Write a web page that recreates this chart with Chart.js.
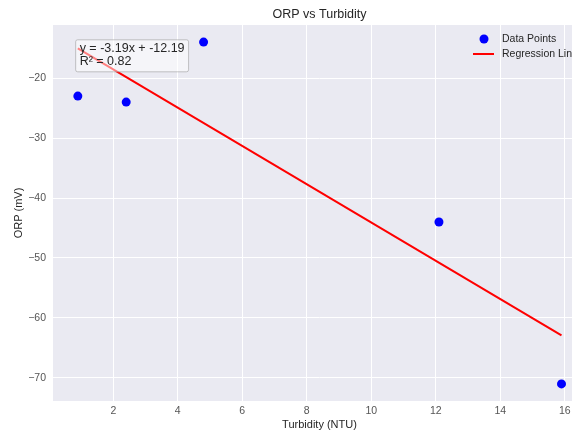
<!DOCTYPE html>
<html>
<head>
<meta charset="utf-8">
<script src="https://cdn.jsdelivr.net/npm/chart.js@4.4.1/dist/chart.umd.min.js"></script>
<style>
  html, body { margin: 0; padding: 0; background: #fff; overflow: hidden; }
  canvas { display: block; }
</style>
</head>
<body>
<canvas id="chart" width="639" height="432"></canvas>
<script>
const turbidity = [0.9, 2.4, 4.8, 12.1, 15.9];
const orp = [-23, -24, -14, -44, -71];
const lineX = [0.9, 15.9];
const lineY = [-15.06, -62.91];
const xTicks = [2, 4, 6, 8, 10, 12, 14, 16];
const yTicks = [-70, -60, -50, -40, -30, -20];
const chartTitle = 'ORP vs Turbidity';
const equationLines = ['y = -3.19x + -12.19', 'R² = 0.82'];
const legendLabels = ['Data Points', 'Regression Line'];

const FONT = "'Liberation Sans', Arial, sans-serif";
const TEXT = '#262626';

const bgPlugin = {
  id: 'bg',
  beforeDraw(chart) {
    const { ctx, chartArea: ca } = chart;
    ctx.save();
    ctx.fillStyle = '#EAEAF2';
    ctx.fillRect(ca.left, ca.top, ca.right - ca.left, ca.bottom - ca.top);
    ctx.restore();
  }
};

// title centred over the axes (the canvas is wider than the window)
const titlePlugin = {
  id: 'axesTitle',
  afterDraw(chart) {
    const { ctx, chartArea: ca } = chart;
    ctx.save();
    ctx.font = '12.5px ' + FONT;
    ctx.fillStyle = TEXT;
    ctx.textAlign = 'center';
    ctx.textBaseline = 'middle';
    ctx.fillText(chartTitle, (ca.left + ca.right) / 2, 15);
    ctx.restore();
  }
};

// equation box in the upper left, like the matplotlib text annotation
const equationPlugin = {
  id: 'equation',
  afterDatasetsDraw(chart) {
    const { ctx, chartArea: ca } = chart;
    const x0 = ca.left + 0.05 * (ca.right - ca.left);
    const y0 = ca.top + 0.05 * (ca.bottom - ca.top);
    ctx.save();
    ctx.font = '12.5px ' + FONT;
    const w = Math.max(...equationLines.map(t => ctx.measureText(t).width));
    ctx.fillStyle = 'rgba(255,255,255,0.5)';
    ctx.strokeStyle = 'rgba(160,160,160,0.6)';
    ctx.lineWidth = 1;
    ctx.beginPath();
    ctx.roundRect(x0 - 4, y0 - 4, w + 8, 32, 2);
    ctx.fill();
    ctx.stroke();
    ctx.fillStyle = TEXT;
    ctx.textBaseline = 'middle';
    equationLines.forEach((t, i) => ctx.fillText(t, x0, y0 + 5 + i * 13));
    ctx.restore();
  }
};

const legendPlugin = {
  id: 'mplLegend',
  afterDraw(chart) {
    const { ctx, chartArea: ca } = chart;
    ctx.save();
    ctx.font = '10.5px ' + FONT;
    ctx.textBaseline = 'middle';
    ctx.fillStyle = 'blue';
    ctx.beginPath();
    ctx.arc(ca.right - 102, ca.top + 14, 4.5, 0, Math.PI * 2);
    ctx.fill();
    ctx.strokeStyle = 'red';
    ctx.lineWidth = 2;
    ctx.beginPath();
    ctx.moveTo(ca.right - 113, ca.top + 29);
    ctx.lineTo(ca.right - 92, ca.top + 29);
    ctx.stroke();
    ctx.fillStyle = TEXT;
    ctx.fillText(legendLabels[0], ca.right - 84, ca.top + 14);
    ctx.fillText(legendLabels[1], ca.right - 84, ca.top + 29);
    ctx.restore();
  }
};

const ctx = document.getElementById('chart').getContext('2d');
new Chart(ctx, {
  type: 'scatter',
  data: {
    datasets: [
      {
        label: legendLabels[1],
        type: 'line',
        data: lineX.map((x, i) => ({ x: x, y: lineY[i] })),
        borderColor: 'red',
        borderWidth: 2,
        pointRadius: 0,
        fill: false
      },
      {
        label: legendLabels[0],
        data: turbidity.map((x, i) => ({ x: x, y: orp[i] })),
        backgroundColor: 'blue',
        borderWidth: 0,
        pointRadius: 4.5
      }
    ]
  },
  options: {
    responsive: false,
    animation: false,
    devicePixelRatio: 1,
    layout: { padding: { left: 0, right: 53, top: 25, bottom: 0 } },
    scales: {
      x: {
        type: 'linear',
        min: 0.13,
        max: 16.66,
        afterBuildTicks: scale => { scale.ticks = xTicks.map(v => ({ value: v })); },
        afterFit: scale => { scale.height = 31; },
        grid: { color: '#ffffff', lineWidth: 1, drawTicks: false },
        border: { display: false },
        ticks: { color: '#555', font: { family: FONT, size: 10.5 }, padding: 4 },
        title: {
          display: true,
          text: 'Turbidity (NTU)',
          color: TEXT,
          font: { family: FONT, size: 11 },
          padding: { top: 0, bottom: 0 }
        }
      },
      y: {
        type: 'linear',
        min: -73.85,
        max: -11.15,
        afterBuildTicks: scale => { scale.ticks = yTicks.map(v => ({ value: v })); },
        afterFit: scale => { scale.width = 53; },
        grid: { color: '#ffffff', lineWidth: 1, drawTicks: false },
        border: { display: false },
        ticks: {
          color: '#555',
          font: { family: FONT, size: 10.5 },
          padding: 7,
          callback: v => String(v).replace('-', '\u2212')
        },
        title: {
          display: true,
          text: 'ORP (mV)',
          color: TEXT,
          font: { family: FONT, size: 11 },
          padding: { top: 12, bottom: 0 }
        }
      }
    },
    plugins: {
      legend: { display: false },
      tooltip: { enabled: false },
      title: { display: false }
    }
  },
  plugins: [bgPlugin, titlePlugin, equationPlugin, legendPlugin]
});
</script>
</body>
</html>
